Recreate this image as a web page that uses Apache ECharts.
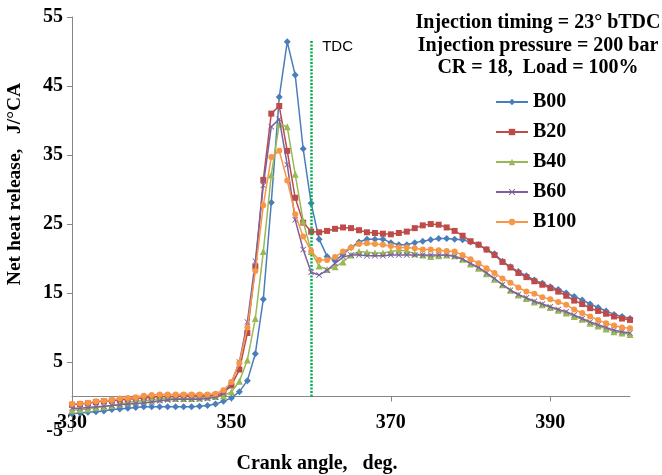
<!DOCTYPE html>
<html>
<head>
<meta charset="utf-8">
<script src="https://cdn.jsdelivr.net/npm/echarts@6/dist/echarts.min.js"></script>
<style>
  html, body { margin: 0; padding: 0; background: #ffffff; }
  #chart { width: 662px; height: 475px; }
</style>
</head>
<body>
<div id="chart"></div>
<script>
// Crank angle (deg) of each sample
const crankAngle = [
  330, 331, 332, 333, 334, 335, 336, 337, 338, 339,
  340, 341, 342, 343, 344, 345, 346, 347, 348, 349,
  350, 351, 352, 353, 354, 355, 356, 357, 358, 359,
  360, 361, 362, 363, 364, 365, 366, 367, 368, 369,
  370, 371, 372, 373, 374, 375, 376, 377, 378, 379,
  380, 381, 382, 383, 384, 385, 386, 387, 388, 389,
  390, 391, 392, 393, 394, 395, 396, 397, 398, 399,
  400
];

// Net heat release (J/°CA) for each blend
const b00 = [
  -2.5, -2.4, -2.3, -2.2, -2.1, -1.9, -1.8, -1.7, -1.6, -1.5,
  -1.5, -1.5, -1.5, -1.5, -1.5, -1.5, -1.4, -1.3, -1.1, -0.7,
  -0.2, 0.7, 2.3, 6.2, 14.1, 28.1, 43.4, 51.4, 46.6, 35.9,
  28.0, 22.8, 20.3, 19.7, 20.6, 21.6, 22.4, 22.8, 22.8, 22.8,
  22.3, 22.0, 22.0, 22.3, 22.5, 22.7, 22.9, 22.9, 22.8, 22.7,
  22.4, 22.0, 21.3, 20.7, 19.6, 18.8, 18.1, 17.5, 16.9, 16.4,
  15.9, 15.5, 15.0, 14.5, 14.0, 13.4, 12.9, 12.4, 11.9, 11.6,
  11.3
];
const b20 = [
  -1.2, -1.1, -1.0, -0.8, -0.7, -0.6, -0.5, -0.4, -0.3, -0.2,
  -0.1, 0.0, 0.0, 0.0, 0.1, 0.1, 0.1, 0.1, 0.2, 0.5,
  1.6, 3.9, 9.2, 18.8, 31.4, 41.0, 42.1, 35.6, 28.8, 25.2,
  23.9, 23.8, 24.0, 24.3, 24.5, 24.4, 24.1, 23.8, 23.7, 23.6,
  23.5, 23.7, 23.9, 24.4, 24.8, 25.0, 24.9, 24.5, 24.0, 23.3,
  22.5, 22.0, 21.3, 20.5, 19.5, 18.7, 17.9, 17.3, 16.7, 16.2,
  15.7, 15.2, 14.6, 13.9, 13.4, 12.8, 12.4, 12.0, 11.6, 11.3,
  11.1
];
const b40 = [
  -2.0, -1.9, -1.8, -1.6, -1.5, -1.3, -1.1, -0.9, -0.7, -0.6,
  -0.5, -0.4, -0.3, -0.3, -0.3, -0.3, -0.2, -0.1, 0.0, 0.1,
  0.7, 2.2, 5.3, 11.3, 21.0, 32.1, 39.5, 39.1, 32.2, 25.4,
  21.0, 18.9, 18.4, 18.8, 19.5, 20.5, 21.0, 20.9, 20.8, 20.8,
  21.0, 21.2, 21.1, 20.7, 20.5, 20.3, 20.4, 20.5, 20.4, 19.9,
  19.2, 18.6, 17.8, 17.0, 16.2, 15.4, 14.7, 14.2, 13.7, 13.3,
  12.9, 12.5, 12.1, 11.6, 11.2, 10.6, 10.2, 9.8, 9.4, 9.2,
  9.0
];
const b60 = [
  -1.7, -1.7, -1.6, -1.5, -1.4, -1.3, -1.2, -1.1, -1.0, -0.9,
  -0.8, -0.6, -0.5, -0.4, -0.4, -0.4, -0.4, -0.3, -0.1, 0.4,
  2.0, 5.0, 10.8, 19.6, 30.6, 39.1, 40.2, 33.6, 25.6, 21.3,
  18.0, 17.6, 18.3, 19.3, 20.2, 20.5, 20.5, 20.4, 20.4, 20.4,
  20.5, 20.5, 20.5, 20.5, 20.5, 20.5, 20.5, 20.5, 20.3, 19.9,
  19.3, 18.7, 17.9, 17.1, 16.2, 15.4, 14.8, 14.3, 13.8, 13.4,
  13.0, 12.6, 12.3, 11.8, 11.3, 10.8, 10.4, 10.0, 9.6, 9.4,
  9.2
];
const b100 = [
  -1.1, -1.0, -0.9, -0.7, -0.6, -0.5, -0.3, -0.2, -0.1, 0.1,
  0.2, 0.3, 0.3, 0.3, 0.3, 0.3, 0.3, 0.3, 0.4, 0.9,
  2.1, 4.9, 10.0, 18.2, 27.7, 34.7, 35.6, 31.3, 26.4, 23.2,
  21.1, 19.8, 19.8, 20.2, 21.0, 21.6, 22.1, 22.2, 22.1, 22.0,
  21.8, 21.6, 21.6, 21.5, 21.3, 21.3, 21.2, 21.1, 21.0, 20.5,
  19.9, 19.3, 18.6, 17.9, 17.1, 16.5, 15.8, 15.2, 14.9, 14.4,
  14.1, 13.7, 13.3, 12.6, 12.1, 11.6, 11.1, 10.6, 10.3, 10.0,
  9.9
];

const seriesNames = ['B00', 'B20', 'B40', 'B60', 'B100'];
const seriesValues = [b00, b20, b40, b60, b100];

// Axis tick labels
const xTicks = [330, 350, 370, 390];
const yTicks = [-5, 5, 15, 25, 35, 45, 55];

// Top dead centre marker
const tdcAngle = 360;
const tdcTop = 51.7;
const tdcLabelLevel = 50.7;

const conditions = [
  'Injection timing = 23° bTDC',
  'Injection pressure = 200 bar',
  'CR = 18,  Load = 100%'
];

const colors = ['#4A7EBB', '#BE4B48', '#98B954', '#7D60A0', '#F79646'];
const symbols = [
  'diamond',
  'rect',
  'triangle',
  'path://M0,1L1,0L5,4L9,0L10,1L6,5L10,9L9,10L5,6L1,10L0,9L4,5Z',
  'circle'
];
const symbolSizes = [7, 6, 7, 6, 6];

const serif = '"Liberation Serif", "Times New Roman", serif';

const chart = echarts.init(document.getElementById('chart'), null, { renderer: 'canvas' });

const series = seriesNames.map((name, i) => ({
  name: name,
  type: 'line',
  data: crankAngle.map((a, k) => [a, seriesValues[i][k]]),
  symbol: symbols[i],
  symbolSize: symbolSizes[i],
  showSymbol: true,
  lineStyle: { color: colors[i], width: 1.5 },
  itemStyle: { color: colors[i] },
  emphasis: { disabled: true },
  z: 3 + i
}));

// dotted TDC line and its label ride on the first series
series[0].markLine = {
  silent: true,
  symbol: 'none',
  label: { show: false },
  lineStyle: { color: '#00B050', width: 2.5, type: [2, 1.5] },
  data: [[{ coord: [tdcAngle, 0] }, { coord: [tdcAngle, tdcTop] }]]
};
series[0].markPoint = {
  silent: true,
  symbol: 'circle',
  symbolSize: 0,
  label: {
    show: true,
    position: 'right',
    distance: 11,
    formatter: 'TDC',
    color: '#000',
    fontFamily: '"Liberation Sans", Arial, sans-serif',
    fontSize: 15
  },
  data: [{ coord: [tdcAngle, tdcLabelLevel] }]
};

const option = {
  animation: false,
  backgroundColor: '#ffffff',
  color: colors,
  grid: {
    left: 72, right: 32, top: 17, bottom: 44,
    containLabel: false,
    outerBoundsMode: 'none'
  },
  legend: {
    data: seriesNames,
    orient: 'vertical',
    left: 490,
    top: 87,
    itemWidth: 32,
    itemHeight: 8,
    itemGap: 10,
    textStyle: {
      fontFamily: serif,
      fontWeight: 'bold',
      fontSize: 20,
      lineHeight: 20,
      color: '#000'
    }
  },
  xAxis: {
    type: 'value',
    min: 330,
    max: 400,
    splitLine: { show: false },
    axisLine: { onZero: true, lineStyle: { color: '#868686', width: 1 } },
    axisTick: { show: true, customValues: xTicks, length: 5, lineStyle: { color: '#868686' } },
    axisLabel: {
      customValues: xTicks,
      margin: -18,
      fontFamily: serif,
      fontWeight: 'bold',
      fontSize: 20,
      color: '#000'
    },
    name: 'Crank angle,   deg.',
    nameLocation: 'middle',
    nameGap: 23,
    nameTextStyle: {
      fontFamily: serif,
      fontWeight: 'bold',
      fontSize: 20,
      color: '#000',
      padding: [0, 68, 0, 0]
    }
  },
  yAxis: {
    type: 'value',
    min: -5,
    max: 55,
    splitLine: { show: false },
    axisLine: { show: true, lineStyle: { color: '#868686', width: 1 } },
    axisTick: { show: true, customValues: yTicks, length: 5, lineStyle: { color: '#868686' } },
    axisLabel: {
      customValues: yTicks,
      margin: 9,
      fontFamily: serif,
      fontWeight: 'bold',
      fontSize: 20,
      color: '#000'
    },
    name: 'Net heat release,   J/°CA',
    nameLocation: 'middle',
    nameRotate: 90,
    nameGap: 47,
    nameTextStyle: {
      fontFamily: serif,
      fontWeight: 'bold',
      fontSize: 19.5,
      color: '#000',
      padding: [0, 0, 0, 80]
    }
  },
  graphic: [{
    type: 'text',
    x: 538,
    y: 12,
    silent: true,
    style: {
      text: conditions.join('\n'),
      fill: '#000',
      font: 'bold 20px ' + serif,
      textAlign: 'center',
      lineHeight: 22.5
    }
  }],
  series: series
};

chart.setOption(option);
</script>
</body>
</html>
